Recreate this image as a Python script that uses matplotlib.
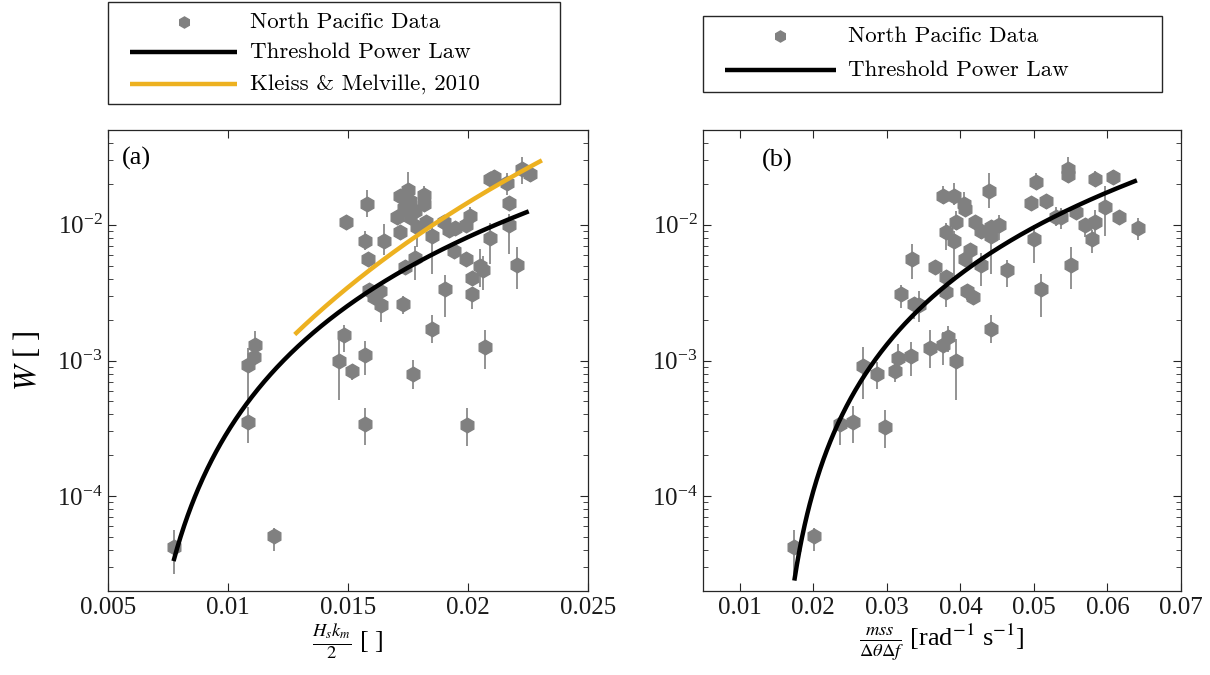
import numpy as np
import matplotlib
matplotlib.use("Agg")
import matplotlib.pyplot as plt
from matplotlib.lines import Line2D
from matplotlib.patches import Rectangle
from matplotlib.ticker import LogLocator, LogFormatterMathtext, FixedLocator

plt.rcParams['font.family'] = ['Liberation Serif', 'DejaVu Serif']
plt.rcParams['mathtext.fontset'] = 'stix'

# ---------------- Panel (a) data: x = Hs*km/2, W, error-bar extents (decades) ----------------
x_a = [0.01493, 0.01580, 0.01572, 0.01648, 0.01583, 0.01715, 0.01749, 0.01760, 0.01818, 0.01818,
       0.01732, 0.01704, 0.01780, 0.01760, 0.01718, 0.01788, 0.01826, 0.01850, 0.01780, 0.01739,
       0.01905, 0.01850, 0.01729, 0.01586, 0.01635, 0.01610, 0.01639, 0.01482, 0.01461, 0.01572,
       0.01517, 0.01772, 0.01572, 0.01114, 0.01107, 0.01083, 0.01083, 0.01193, 0.00773, 0.01898,
       0.01919, 0.01947, 0.01940, 0.01993, 0.02007, 0.01993, 0.02048, 0.02063, 0.02017, 0.02017,
       0.02093, 0.02091, 0.02110, 0.02163, 0.02225, 0.02260, 0.02172, 0.02172, 0.02204, 0.02072,
       0.01996]
W_a = [1.045e-2, 1.429e-2, 7.66e-3, 7.66e-3, 5.58e-3, 1.644e-2, 1.805e-2, 1.51e-2, 1.658e-2, 1.423e-2,
       1.341e-2, 1.151e-2, 1.275e-2, 1.142e-2, 8.82e-3, 9.72e-3, 1.045e-2, 8.34e-3, 5.71e-3, 4.90e-3,
       3.39e-3, 1.72e-3, 2.59e-3, 3.31e-3, 3.25e-3, 2.93e-3, 2.58e-3, 1.53e-3, 1.00e-3, 1.10e-3,
       8.37e-4, 7.98e-4, 3.39e-4, 1.305e-3, 1.057e-3, 9.19e-4, 3.51e-4, 5.05e-5, 4.21e-5, 1.045e-2,
       9.23e-3, 9.50e-3, 6.36e-3, 1.005e-2, 1.171e-2, 5.60e-3, 5.01e-3, 4.68e-3, 4.06e-3, 3.10e-3,
       8.00e-3, 2.195e-2, 2.27e-2, 2.05e-2, 2.586e-2, 2.376e-2, 1.447e-2, 1.005e-2, 5.10e-3, 1.253e-3,
       3.32e-4]
up_a = [0.03, 0.10, 0.07, 0.12, 0.04, 0.04, 0.13, 0.04, 0.07, 0.04,
        0.04, 0.04, 0.04, 0.04, 0.04, 0.04, 0.04, 0.07, 0.09, 0.03,
        0.10, 0.10, 0.06, 0.04, 0.04, 0.04, 0.04, 0.08, 0.16, 0.10,
        0.04, 0.10, 0.12, 0.10, 0.04, 0.13, 0.11, 0.06, 0.13, 0.04,
        0.04, 0.04, 0.04, 0.04, 0.06, 0.04, 0.12, 0.10, 0.04, 0.04,
        0.11, 0.04, 0.05, 0.07, 0.09, 0.04, 0.04, 0.08, 0.13, 0.13,
        0.13]
dn_a = [0.03, 0.10, 0.07, 0.11, 0.04, 0.04, 0.13, 0.04, 0.06, 0.04,
        0.04, 0.04, 0.04, 0.04, 0.04, 0.15, 0.04, 0.28, 0.16, 0.03,
        0.21, 0.11, 0.07, 0.06, 0.04, 0.04, 0.13, 0.12, 0.29, 0.15,
        0.07, 0.11, 0.15, 0.10, 0.04, 0.26, 0.15, 0.11, 0.20, 0.04,
        0.04, 0.04, 0.04, 0.04, 0.06, 0.04, 0.16, 0.15, 0.04, 0.11,
        0.19, 0.04, 0.04, 0.09, 0.11, 0.06, 0.04, 0.22, 0.18, 0.16,
        0.15]

# ---------------- Panel (b) data: x = mss/(dtheta df) ----------------
x_b = [0.01733, 0.02004, 0.02366, 0.02539, 0.02977, 0.02674, 0.02864, 0.03113, 0.03157, 0.03330,
       0.03588, 0.03768, 0.03836, 0.03940, 0.04415, 0.03187, 0.03364, 0.03438, 0.03337, 0.03655,
       0.03805, 0.03805, 0.03768, 0.03916, 0.04053, 0.04059, 0.03944, 0.03805, 0.03913, 0.04198,
       0.04275, 0.04385, 0.04411, 0.04411, 0.04530, 0.04130, 0.04062, 0.04277, 0.04636, 0.04090,
       0.04167, 0.04958, 0.05035, 0.05171, 0.04999, 0.05103, 0.05297, 0.05372, 0.05464, 0.05464,
       0.05503, 0.05573, 0.05691, 0.05826, 0.05833, 0.05795, 0.05969, 0.06080, 0.06156, 0.06410]
W_b = [4.21e-5, 5.05e-5, 3.38e-4, 3.51e-4, 3.22e-4, 9.11e-4, 7.98e-4, 8.30e-4, 1.043e-3, 1.088e-3,
       1.246e-3, 1.311e-3, 1.49e-3, 9.92e-4, 1.72e-3, 3.09e-3, 2.59e-3, 2.58e-3, 5.60e-3, 4.87e-3,
       4.11e-3, 3.22e-3, 1.644e-2, 1.644e-2, 1.429e-2, 1.307e-2, 1.045e-2, 8.82e-3, 7.66e-3, 1.045e-2,
       9.08e-3, 1.79e-2, 9.60e-3, 8.34e-3, 1.00e-2, 6.47e-3, 5.62e-3, 5.04e-3, 4.66e-3, 3.28e-3,
       2.94e-3, 1.443e-2, 2.06e-2, 1.51e-2, 7.88e-3, 3.38e-3, 1.151e-2, 1.137e-2, 2.586e-2, 2.337e-2,
       5.07e-3, 1.247e-2, 1.00e-2, 2.178e-2, 1.045e-2, 7.92e-3, 1.364e-2, 2.27e-2, 1.151e-2, 9.55e-3]
up_b = [0.13, 0.06, 0.04, 0.12, 0.13, 0.14, 0.09, 0.06, 0.10, 0.10,
        0.13, 0.09, 0.08, 0.16, 0.10, 0.07, 0.05, 0.10, 0.11, 0.04,
        0.04, 0.07, 0.07, 0.09, 0.09, 0.04, 0.08, 0.07, 0.07, 0.04,
        0.04, 0.13, 0.04, 0.07, 0.07, 0.04, 0.04, 0.09, 0.07, 0.04,
        0.04, 0.04, 0.07, 0.04, 0.10, 0.11, 0.07, 0.07, 0.09, 0.04,
        0.13, 0.04, 0.04, 0.06, 0.09, 0.06, 0.15, 0.05, 0.04, 0.07]
dn_b = [0.20, 0.11, 0.15, 0.15, 0.15, 0.24, 0.11, 0.08, 0.06, 0.15,
        0.15, 0.15, 0.11, 0.29, 0.11, 0.10, 0.11, 0.13, 0.15, 0.04,
        0.04, 0.11, 0.06, 0.07, 0.04, 0.04, 0.04, 0.13, 0.26, 0.04,
        0.06, 0.13, 0.04, 0.28, 0.11, 0.04, 0.04, 0.15, 0.13, 0.07,
        0.04, 0.04, 0.06, 0.06, 0.18, 0.21, 0.07, 0.09, 0.04, 0.06,
        0.18, 0.04, 0.09, 0.06, 0.11, 0.11, 0.22, 0.04, 0.04, 0.09]

# ---------------- Model curves ----------------
# Threshold power law W = a (x - x0)^n
tpl_a = dict(a=610.0, x0=0.0060, n=2.63, xmin=0.00773, xmax=0.02253)
tpl_b = dict(a=28.9, x0=0.0145, n=2.40, xmin=0.01742, xmax=0.06400)
# Kleiss & Melville 2010: W = c x^m
km = dict(c=4.56e6, m=5.0, xmin=0.01278, xmax=0.02308)

x_ticks_a = [0.005, 0.01, 0.015, 0.02, 0.025]
x_tick_labels_a = ['0.005', '0.01', '0.015', '0.02', '0.025']
x_ticks_b = [0.01, 0.02, 0.03, 0.04, 0.05, 0.06, 0.07]
x_tick_labels_b = ['0.01', '0.02', '0.03', '0.04', '0.05', '0.06', '0.07']

GRAY = '#808080'
ORANGE = '#EDB120'
AXC = '#262626'

W_FIG, H_FIG = 1210, 675
fig = plt.figure(figsize=(W_FIG / 100, H_FIG / 100), dpi=100)

def fx(px):
    return px / W_FIG

def fy(py):
    return 1 - py / H_FIG

ax1 = fig.add_axes([fx(108), fy(591), 480 / W_FIG, 461 / H_FIG])
ax2 = fig.add_axes([fx(703), fy(591), 478 / W_FIG, 461 / H_FIG])


def draw_data(ax, x, W, up, dn):
    x = np.asarray(x); W = np.asarray(W)
    up = np.asarray(up); dn = np.asarray(dn)
    lo = W - W * 10 ** (-dn)
    hi = W * 10 ** up - W
    ax.errorbar(x, W, yerr=[lo, hi], fmt='h', color=GRAY, ecolor=GRAY,
                elinewidth=1.2, capsize=0, markersize=10.5, mfc=GRAY, mec=GRAY,
                zorder=2)


def tpl_curve(ax, p):
    xx = np.linspace(p['xmin'], p['xmax'], 400)
    ax.plot(xx, p['a'] * (xx - p['x0']) ** p['n'], color='black', lw=3.2,
            solid_capstyle='butt', zorder=4)


draw_data(ax1, x_a, W_a, up_a, dn_a)
tpl_curve(ax1, tpl_a)
xk = np.linspace(km['xmin'], km['xmax'], 300)
ax1.plot(xk, km['c'] * xk ** km['m'], color=ORANGE, lw=3.2, solid_capstyle='butt', zorder=3)

draw_data(ax2, x_b, W_b, up_b, dn_b)
tpl_curve(ax2, tpl_b)

for ax, xt, xtl, xl in [(ax1, x_ticks_a, x_tick_labels_a, (0.005, 0.025)),
                        (ax2, x_ticks_b, x_tick_labels_b, (0.005, 0.07))]:
    ax.set_yscale('log')
    ax.set_ylim(2e-5, 5e-2)
    ax.set_xlim(*xl)
    ax.set_xticks(xt)
    ax.set_xticklabels(xtl)
    ax.yaxis.set_major_locator(FixedLocator([1e-4, 1e-3, 1e-2]))
    ax.yaxis.set_major_formatter(LogFormatterMathtext())
    ax.yaxis.set_minor_locator(LogLocator(base=10, subs=np.arange(2, 10), numticks=20))
    ax.tick_params(which='both', direction='in', top=True, right=True, colors=AXC,
                   labelcolor='#1a1a1a')
    ax.tick_params(which='major', length=6, width=0.8, labelsize=18, pad=4)
    ax.tick_params(which='minor', length=3.5, width=0.6)
    for s in ax.spines.values():
        s.set_color(AXC)
        s.set_linewidth(0.9)

ax1.set_ylabel(r'$W$ [ ]', fontsize=22)
ax1.yaxis.set_label_coords(-0.135, 0.5)

ax1.text(0.5, -0.066, r'$\frac{H_s k_m}{2}$ [ ]', transform=ax1.transAxes,
         ha='center', va='top', fontsize=19)
ax2.text(0.5, -0.066, r'$\frac{mss}{\Delta\theta\Delta f}$ [rad$^{-1}$ s$^{-1}$]',
         transform=ax2.transAxes, ha='center', va='top', fontsize=19)

ax1.text(0.029, 0.939, '(a)', transform=ax1.transAxes, ha='left', va='center', fontsize=19)
ax2.text(0.123, 0.935, '(b)', transform=ax2.transAxes, ha='left', va='center', fontsize=19)

# ---------------- Legends (drawn in figure coordinates) ----------------
LEG_FONT = ['cmr10', 'DejaVu Serif']


def legend_box(x0, y0, x1, y1):
    fig.add_artist(Rectangle((fx(x0), fy(y1)), fx(x1) - fx(x0), fy(y0) - fy(y1),
                             transform=fig.transFigure, fill=False,
                             edgecolor=AXC, linewidth=1.0))


def legend_row(kind, color, xl0, xl1, y, xt, label):
    if kind == 'marker':
        fig.add_artist(Line2D([fx((xl0 + xl1) / 2)], [fy(y)], transform=fig.transFigure,
                              marker='h', markersize=8, color=color, mec=color, ls='none'))
    else:
        fig.add_artist(Line2D([fx(xl0), fx(xl1)], [fy(y), fy(y)], transform=fig.transFigure,
                              color=color, lw=3.2, solid_capstyle='butt'))
    fig.text(fx(xt), fy(y), label, ha='left', va='center', fontsize=16.5,
             family=LEG_FONT, color='black')


legend_box(108, 2, 560, 104)
legend_row('marker', GRAY, 130, 237, 22, 250, 'North Pacific Data')
legend_row('line', 'black', 130, 237, 52, 250, 'Threshold Power Law')
legend_row('line', ORANGE, 130, 237, 84, 250, 'Kleiss & Melville, 2010')

legend_box(703, 16, 1162, 92)
legend_row('marker', GRAY, 725, 836, 36, 848, 'North Pacific Data')
legend_row('line', 'black', 725, 836, 70, 848, 'Threshold Power Law')

fig.savefig('out.png', dpi=100)
